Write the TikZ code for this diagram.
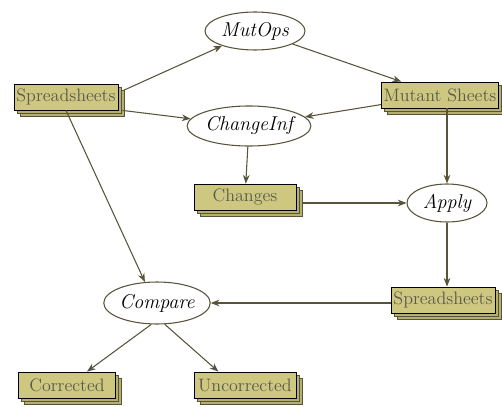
\documentclass[tikz,border=0pt]{standalone}
\usepackage{xcolor}
\usepackage{tikz}
\usetikzlibrary{arrows.meta,positioning,shapes.geometric,shadows}
\definecolor{sheetFill}{RGB}{206,199,128}
\definecolor{sheetText}{RGB}{90,90,78}
\definecolor{flowOlive}{RGB}{88,84,58}

\begin{document}
\begin{tikzpicture}[x=0.75pt,y=-0.75pt,
  sheet/.style={draw=black, fill=sheetFill, text=sheetText, font=\fontsize{13.5}{16}\selectfont,
    minimum height=19.5pt, minimum width=73pt, inner xsep=1.8pt, inner ysep=2pt, line width=0.6pt,
    double copy shadow={shadow xshift=2.3pt, shadow yshift=-2.3pt, draw=flowOlive, fill=sheetFill!88!black}},
  op/.style={ellipse, draw=flowOlive, line width=0.8pt, fill=white, font=\fontsize{15}{17}\selectfont\itshape, inner sep=0pt},
  flow/.style={flowOlive, line width=0.8pt, -{Stealth[length=6.5pt,width=5pt]}}]
\useasboundingbox (0,0) rectangle (502,406);
% sheets
\node[sheet] (src) at (66,97) {Spreadsheets};
\node[sheet] (mutants) at (440,95) {Mutant Sheets};
\node[sheet, minimum width=76.5pt] (changes) at (245,197) {Changes};
\node[sheet] (result) at (443,300) {Spreadsheets};
\node[sheet] (corr) at (67,385) {Corrected};
\node[sheet, minimum width=76.5pt] (uncorr) at (245,385) {Uncorrected};
% operations
\node[op, minimum width=75pt, minimum height=28.5pt] (mutops) at (255,31) {MutOps};
\node[op, minimum width=88.5pt, minimum height=30pt] (chinf) at (249,126) {ChangeInf};
\node[op, minimum width=60pt, minimum height=28.5pt] (apply) at (447,203) {Apply};
\node[op, minimum width=78pt, minimum height=31.5pt] (compare) at (157,303) {Compare};
% flows
\draw[flow] ([xshift=4pt,yshift=-5pt]src.north east) -- (mutops);
\draw[flow] ([xshift=3pt]src.south east) -- (chinf);
\draw[flow] (src.south) -- (compare.120);
\draw[flow] (mutops) -- (mutants);
\draw[flow] (mutants) -- (chinf);
\draw[flow] (mutants.south -| apply) -- (apply);
\draw[flow] (chinf) -- (changes);
\draw[flow] ([xshift=4pt]changes.east |- apply.west) -- (apply.west);
\draw[flow] (apply) -- (apply |- result.north);
\draw[flow] (result.west |- compare.east) -- (compare.east);
\draw[flow] (compare.255) -- ([xshift=15pt]corr.north);
\draw[flow] (compare.290) -- ([xshift=-20pt]uncorr.north);
\end{tikzpicture}
\end{document}
